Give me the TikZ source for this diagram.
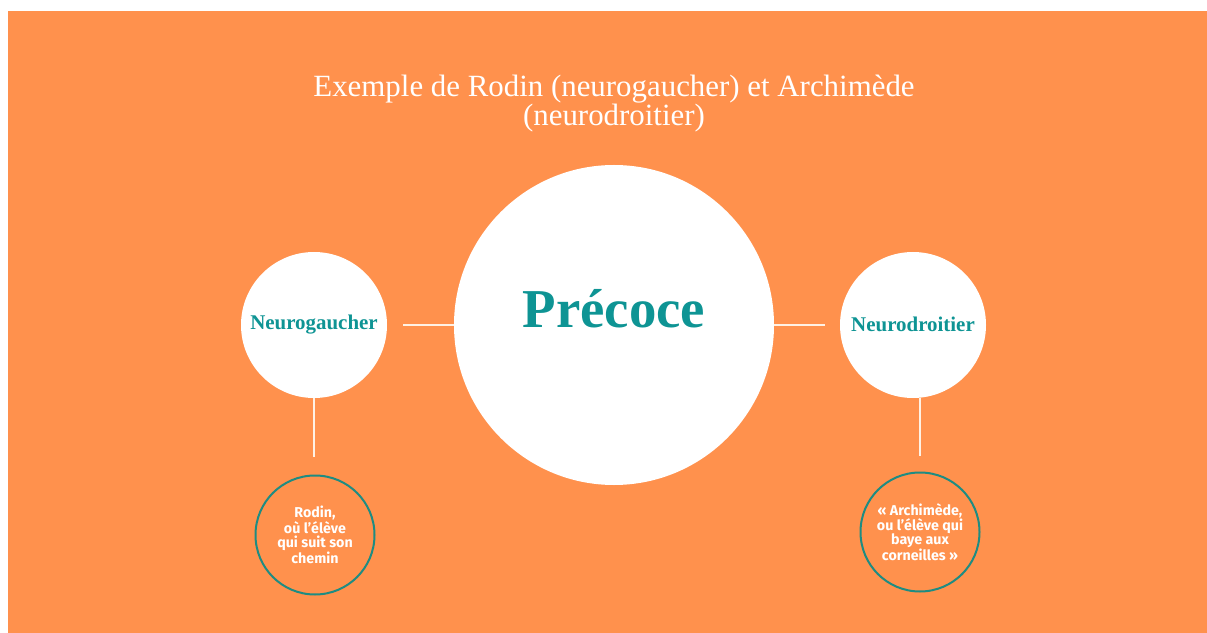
\documentclass[tikz,border=0pt]{standalone}
\usepackage{fontspec}
\setmainfont{Liberation Serif}
\newfontfamily\bulle{Fira Sans}
\usepackage{tikz}
\usetikzlibrary{positioning}

\definecolor{fond}{HTML}{FF914D}
\definecolor{sarcelle}{HTML}{0E9494}
\definecolor{contour}{HTML}{1E8C82}
\definecolor{trait}{HTML}{FFF1E4}

\begin{document}
\begin{tikzpicture}[x=1bp, y=-1bp,
  link/.style={draw=trait, line width=1.4bp},
  grand/.style={circle, fill=white, minimum size=320bp, inner sep=0pt, text=sarcelle,
    font=\fontsize{55}{58}\selectfont\bfseries},
  moyen/.style={circle, fill=white, minimum size=146bp, inner sep=0pt, text=sarcelle,
    font=\fontsize{21}{24}\selectfont\bfseries},
  petit/.style={circle, draw=contour, line width=2bp, minimum size=119bp, inner sep=0pt,
    text=white, align=center, font=\bulle\bfseries\fontsize{14.3}{14.4}\selectfont}
]
\fill[white] (0,0) rectangle (1207,633);
\fill[fond] (8,11) rectangle (1207,633);

\node[align=center, text=white, font=\fontsize{31}{27}\selectfont] (titre) at (614,104)
  {Exemple de Rodin (neurogaucher) et Archimède\\(neurodroitier)};

\node[grand] (precoce) at (614,325) {\raisebox{34bp}{Précoce}};

\node[moyen] (gauche) at (314,325) {\raisebox{1bp}{Neurogaucher}};
\node[moyen] (droit)  at (913,325) {\raisebox{1bp}{Neurodroitier}};

\node[petit] (gauchebas) at (315,535) {Rodin,\\où l’élève\\qui suit son\\chemin};
\node[petit] (droitbas)  at (920,532) {« Archimède,\\ou l’élève qui\\baye aux\\corneilles »};

\draw[link, shorten <=16bp] (gauche) -- (precoce);
\draw[link, shorten >=15bp] (precoce) -- (droit);

\draw[link, shorten >=18bp] (gauche.south) -- (gauche.south |- gauchebas.north);
\draw[link, shorten >=16bp] (droitbas.north |- droit.south) -- (droitbas.north);

\end{tikzpicture}
\end{document}
